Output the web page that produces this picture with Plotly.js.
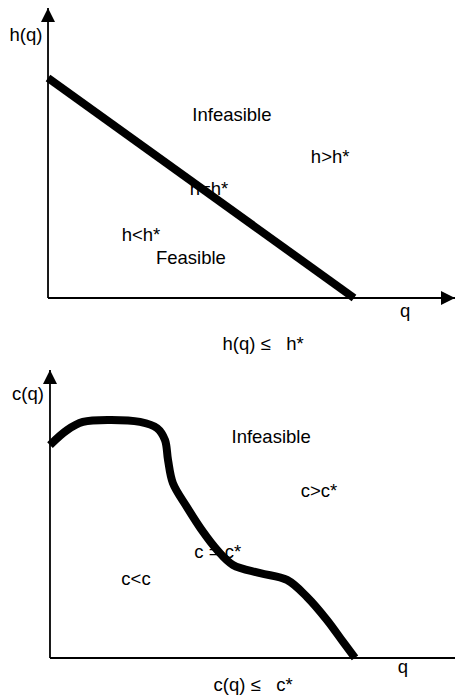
<!DOCTYPE html>
<html>
<head>
<meta charset="utf-8">
<script src="https://cdn.plot.ly/plotly-3.0.1.min.js"></script>
<style>html,body{margin:0;padding:0;background:#fff;}#chart{width:455px;height:699px;}</style>
</head>
<body>
<div id="chart"></div>
<script>
// Top panel: linear constraint h(q)
const hLineQ = [0, 10];
const hLineH = [10, 0];
const hAxisQEnd = 13.3;
const hAxisHEnd = 13.18;
const hLabels = ["h(q)", "Infeasible", "h>h*", "h=h*", "h<h*", "Feasible", "q", "h(q) \u2264 \u00a0 h*"];
const hLabelQ = [-0.72, 6.01, 9.22, 5.26, 3.04, 4.67, 11.67, 7.03];
const hLabelH = [11.91, 8.27, 6.36, 4.91, 2.82, 1.77, -0.64, -2.15];

// Bottom panel: nonlinear constraint c(q)
const cCurveQ = [0, 0.56, 1.08, 1.97, 2.95, 3.51, 3.77, 3.87, 4.03, 4.49, 5.02, 5.48, 6.0, 6.89, 7.77, 8.43, 9.08, 9.61, 10.0];
const cCurveC = [9.68, 10.36, 10.73, 10.82, 10.73, 10.45, 9.91, 9.0, 7.95, 6.86, 5.73, 4.91, 4.23, 3.86, 3.55, 2.77, 1.73, 0.73, 0.0];
const cAxisQEnd = 13.28;
const cAxisCEnd = 13.09;
const cLabels = ["c(q)", "Infeasible", "c>c*", "c = c*", "c<c", "q", "c(q) \u2264 \u00a0 c*"];
const cLabelQ = [-0.72, 7.25, 8.82, 5.5, 2.82, 11.57, 6.66];
const cLabelC = [11.95, 10.0, 7.55, 4.77, 3.55, -0.45, -1.3];

const font = {family: "Liberation Sans, Arial, sans-serif", size: 18.5, color: "#000"};
const axisLine = {color: "#000", width: 1.8};

function panel(xa, ya, lineQ, lineV, qEnd, vEnd, labels, lq, lv, shape) {
  return [
    {x: [0, qEnd], y: [0, 0], xaxis: xa, yaxis: ya, mode: "lines", line: axisLine, hoverinfo: "skip"},
    {x: [0, 0], y: [0, vEnd], xaxis: xa, yaxis: ya, mode: "lines", line: axisLine, hoverinfo: "skip"},
    {x: [qEnd], y: [0], xaxis: xa, yaxis: ya, mode: "markers", cliponaxis: false,
     marker: {symbol: "arrow-right", size: 14, color: "#000", line: {width: 0}}, hoverinfo: "skip"},
    {x: [0], y: [vEnd], xaxis: xa, yaxis: ya, mode: "markers", cliponaxis: false,
     marker: {symbol: "arrow-up", size: 14, color: "#000", line: {width: 0}}, hoverinfo: "skip"},
    {x: lq, y: lv, text: labels, xaxis: xa, yaxis: ya, mode: "text", cliponaxis: false,
     textposition: "middle center", textfont: font, hoverinfo: "skip"},
    {x: lineQ, y: lineV, xaxis: xa, yaxis: ya, mode: "lines", cliponaxis: false,
     line: {color: "#000", width: 8, shape: shape, smoothing: 1}, hoverinfo: "skip"}
  ];
}

const data = [].concat(
  panel("x", "y", hLineQ, hLineH, hAxisQEnd, hAxisHEnd, hLabels, hLabelQ, hLabelH, "linear"),
  panel("x2", "y2", cCurveQ, cCurveC, cAxisQEnd, cAxisCEnd, cLabels, cLabelQ, cLabelC, "spline")
);

const hidden = {visible: false, fixedrange: true};
const layout = {
  width: 455, height: 699,
  margin: {l: 0, r: 0, t: 0, b: 0},
  paper_bgcolor: "#fff", plot_bgcolor: "#fff",
  showlegend: false,
  xaxis: Object.assign({}, hidden, {domain: [0, 1], range: [-1.569, 13.30], anchor: "y"}),
  yaxis: Object.assign({}, hidden, {domain: [0.49928, 1], range: [-2.364, 13.545], anchor: "x"}),
  xaxis2: Object.assign({}, hidden, {domain: [0, 1], range: [-1.639, 13.279], anchor: "y2"}),
  yaxis2: Object.assign({}, hidden, {domain: [0, 0.49928], range: [-1.864, 14.0], anchor: "x2"})
};

Plotly.newPlot("chart", data, layout, {staticPlot: true, displayModeBar: false});
</script>
</body>
</html>
